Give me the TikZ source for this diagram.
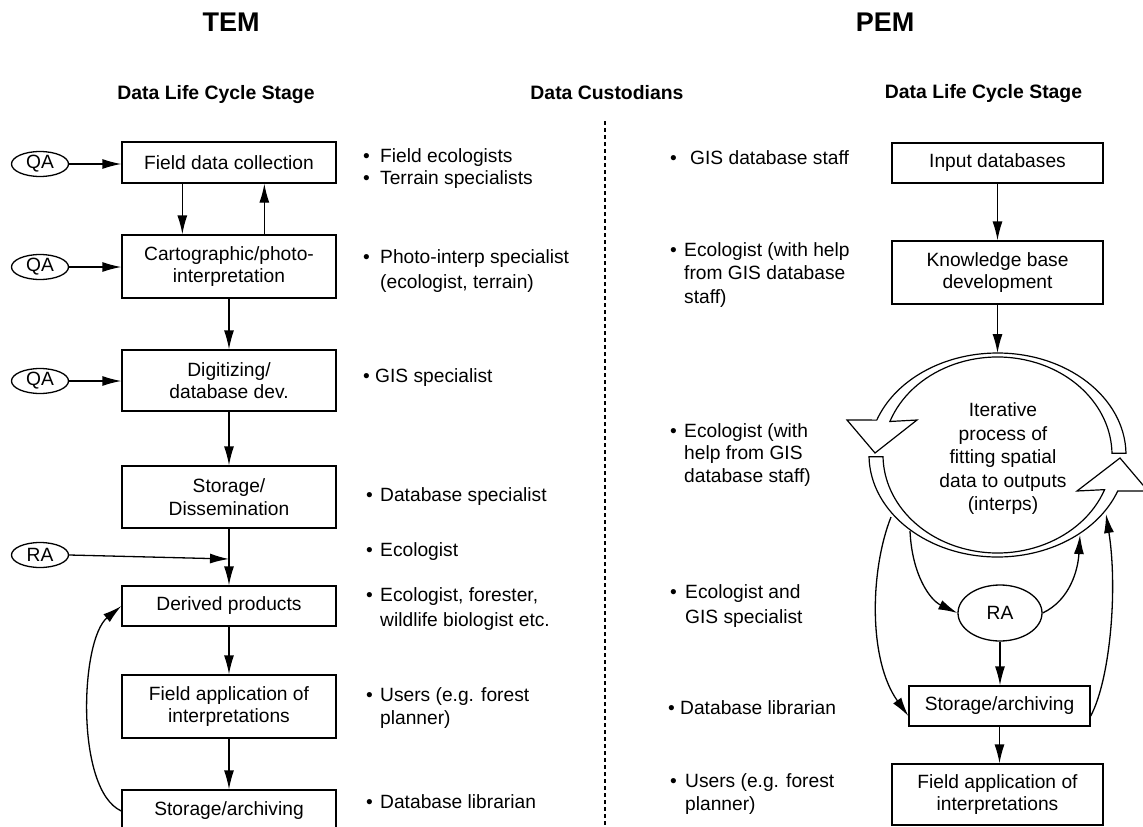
\documentclass[tikz,border=0pt]{standalone}
\usepackage{fontspec}
\setmainfont{Liberation Sans}
\usetikzlibrary{arrows.meta,calc,shapes.geometric}
\newcommand\mybody{\fontsize{19.2}{22.5}\selectfont}
\newcommand\myring{\fontsize{19.2}{23.5}\selectfont}
\newcommand\myhead{\fontsize{19.4}{22}\selectfont\bfseries}
\newcommand\mytitle{\fontsize{27}{30}\selectfont\bfseries}
\begin{document}
\begin{tikzpicture}[x=1pt,y=-1pt,
  box/.style={draw,line width=1.3pt,inner sep=0pt,align=center,font=\mybody},
  oval/.style={draw,ellipse,line width=1.3pt,inner sep=0pt,font=\mybody,minimum width=57pt,minimum height=25pt},
  arr/.style={line width=1.3pt,-{Latex[length=19pt,width=10pt]}},
  txt/.style={anchor=base west,inner sep=0pt,font=\mybody},
  band/.style={draw,fill=white,line width=1.2pt,line join=miter},
  ]
\useasboundingbox (0,0) rectangle (1143,827);
\clip (0,0) rectangle (1143,827);

% titles and headings
\node[anchor=base,font=\mytitle,inner sep=0pt] (tem) at (231,31) {TEM};
\node[anchor=base,font=\mytitle,inner sep=0pt] (pem) at (885,31) {PEM};
\node[anchor=base,font=\myhead,inner sep=0pt] (h1) at (216,99) {Data Life Cycle Stage};
\node[anchor=base,font=\myhead,inner sep=0pt] (h2) at (607,99) {Data Custodians};
\node[anchor=base,font=\myhead,inner sep=0pt] (h3) at (983.5,98) {Data Life Cycle Stage};

% dashed divider
\coordinate (dtop) at (605,121);
\coordinate (dbot) at (605,830);
\draw[dash pattern=on 4pt off 3pt,line width=1.2pt] (dtop) -- (dbot);

% ---------- TEM column ----------
\node[box,minimum width=214pt,minimum height=41pt] (L1) at (229,162.5) {Field data collection};
\node[box,minimum width=214pt,minimum height=63pt] (L2) at (229,266.5) {Cartographic/photo-\\interpretation};
\node[box,minimum width=214pt,minimum height=61pt] (L3) at (229,380.5) {Digitizing/\\database dev.};
\node[box,minimum width=214pt,minimum height=62pt] (L4) at (229,497) {Storage/\\Dissemination};
\node[box,minimum width=214pt,minimum height=40pt] (L5) at (229,606) {Derived products};
\node[box,minimum width=214pt,minimum height=63pt] (L6) at (229,706.5) {Field application of\\interpretations};
\node[box,minimum width=214pt,minimum height=42pt] (L7) at (229,811) {Storage/archiving};

\node[oval] (QA1) at (40,164) {QA};
\node[oval] (QA2) at (40,267) {QA};
\node[oval] (QA3) at (40,381) {QA};
\node[oval] (RAL) at (40,555) {RA};

\draw[arr] (QA1) -- (QA1 -| L1.west);
\draw[arr] (QA2) -- (QA2 -| L2.west);
\draw[arr] (QA3) -- (QA3 -| L3.west);

\draw[arr] ($(L1.south west)+(61,0)$) -- ($(L2.north west)+(61,0)$);
\draw[arr] ($(L2.north west)+(143,0)$) -- ($(L1.south west)+(143,0)$);
\draw[arr] (L2) -- (L3);
\draw[arr] (L3) -- (L4);
\draw[arr] (L4) -- (L5);
\draw[arr] (L5) -- (L6);
\draw[arr] (L6) -- (L7);
\coordinate (join) at (229,559);
\draw[arr] (RAL.east) -- (join);
\draw[arr] (L7.west) .. controls (75,790) and (80,640) .. (L5.west);

% TEM custodians
\node[txt] (ba1) at (363,162) {•};
\node[txt] (ta1) at (380,162) {Field ecologists};
\node[txt] (ba2) at (363,184) {•};
\node[txt] (ta2) at (380,184) {Terrain specialists};
\node[txt] (ba3) at (363,263) {•};
\node[txt] (ta3) at (380,263) {Photo-interp specialist};
\node[txt] (ta3b) at (380,288) {(ecologist, terrain)};
\node[txt] (ba4) at (363,382) {•};
\node[txt] (ta4) at (375,382) {GIS specialist};
\node[txt] (ba5) at (366,501) {•};
\node[txt] (ta5) at (380,501) {Database specialist};
\node[txt] (ba6) at (366,556) {•};
\node[txt] (ta6) at (380,556) {Ecologist};
\node[txt] (ba7) at (366,601) {•};
\node[txt] (ta7) at (380,601) {Ecologist, forester,};
\node[txt] (ta7b) at (380,626) {wildlife biologist etc.};
\node[txt] (ba8) at (366,701) {•};
\node[txt] (ta8) at (380,701) {Users (e.g. forest};
\node[txt] (ta8b) at (380,724) {planner)};
\node[txt] (ba9) at (366,808) {•};
\node[txt] (ta9) at (380,808) {Database librarian};

% ---------- PEM column ----------
\node[box,minimum width=211pt,minimum height=40pt] (R1) at (997.5,163) {Input databases};
\node[box,minimum width=211pt,minimum height=63pt] (R2) at (997.5,272.5) {Knowledge base\\development};
\node[box,minimum width=181pt,minimum height=40pt] (R3) at (999.5,706) {Storage/archiving};
\node[box,minimum width=211pt,minimum height=61pt] (R4) at (997.5,794.5) {Field application of\\interpretations};
\node[oval,minimum width=84pt,minimum height=56pt] (RA) at (1000,613) {RA};

% circular arrows
\coordinate (rc) at (997.5,455);
\path[band] ($(rc)+(-1:128.5 and 102)$) arc[start angle=-1,end angle=-160,x radius=128.5,y radius=102]
  -- (847,420) -- (875,453) -- (917,420)
  -- ($(rc)+(-160:114.5 and 98)$) arc[start angle=-160,end angle=-1,x radius=114.5,y radius=98] -- cycle;
\path[band] ($(rc)+(179:128.5 and 102)$) arc[start angle=179,end angle=20.7,x radius=128.5,y radius=102]
  -- (1148,491) -- (1120,458) -- (1077,491)
  -- ($(rc)+(20.7:114.5 and 98)$) arc[start angle=20.7,end angle=179,x radius=114.5,y radius=98] -- cycle;
\node[font=\myring,align=center,inner sep=0pt] (ringtxt) at (1003,459) {Iterative\\process of\\fitting spatial\\data to outputs\\(interps)};

\coordinate (ringtop) at (997.5,353);
\coordinate (ringBL) at (891,517);
\coordinate (ringBR) at (1106,514);
\coordinate (ringSL) at (910,531);
\coordinate (ringSR) at (1080,535);

\draw[arr] (R1) -- (R2);
\draw[arr] (R2.south) -- (ringtop);
\draw[arr] (RA.south) -- (RA.south |- R3.north);
\draw[arr] (R3.south) -- (R3.south |- R4.north);
\draw[arr] (ringBL) .. controls (870,570) and (868,660) .. ($(R3.west)+(0,10)$);
\draw[arr] ($(R3.east)+(0,10)$) .. controls (1110,680) and (1118,590) .. (ringBR);
\draw[arr] (ringSL) .. controls (912,575) and (930,600) .. (RA.west);
\draw[arr] (RA.east) .. controls (1070,600) and (1078,570) .. (ringSR);

% PEM custodians
\node[txt] (bb1) at (670,164) {•};
\node[txt] (tb1) at (690,164) {GIS database staff};
\node[txt] (bb2) at (670,256) {•};
\node[txt] (tb2) at (684,256) {Ecologist (with help};
\node[txt] (tb2b) at (684,279) {from GIS database};
\node[txt] (tb2c) at (684,303) {staff)};
\node[txt] (bb3) at (670,437) {•};
\node[txt] (tb3) at (684,437) {Ecologist (with};
\node[txt] (tb3b) at (684,459) {help from GIS};
\node[txt] (tb3c) at (684,482) {database staff)};
\node[txt] (bb4) at (670,598) {•};
\node[txt] (tb4) at (685,598) {Ecologist and};
\node[txt] (tb4b) at (685,623) {GIS specialist};
\node[txt] (bb5) at (668,714) {•};
\node[txt] (tb5) at (680,714) {Database librarian};
\node[txt] (bb6) at (670,787) {•};
\node[txt] (tb6) at (685,787) {Users (e.g. forest};
\node[txt] (tb6b) at (685,810) {planner)};
\end{tikzpicture}
\end{document}
